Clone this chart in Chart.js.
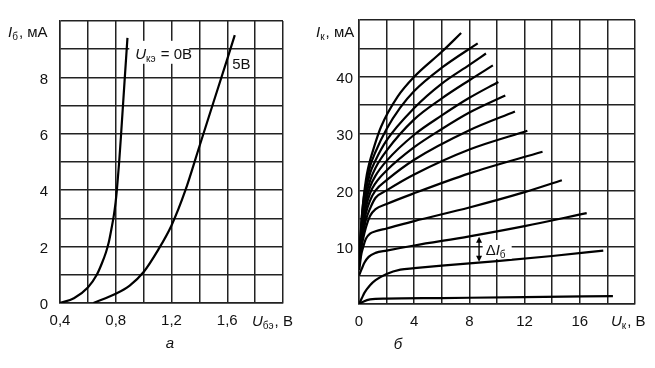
<!DOCTYPE html>
<html>
<head>
<meta charset="utf-8">
<script src="https://cdn.jsdelivr.net/npm/chart.js@4.4.1/dist/chart.umd.min.js"></script>
<style>
  html, body { margin: 0; padding: 0; background: #fff; }
  #wrap { position: relative; width: 655px; height: 368px; overflow: hidden; }
  canvas { position: absolute; top: 0; }
  #inputChart { left: 0; }
  #outputChart { left: 300px; }
</style>
</head>
<body>
<div id="wrap">
  <canvas id="inputChart" width="300" height="368"></canvas>
  <canvas id="outputChart" width="355" height="368"></canvas>
</div>
<script>
// --- a: input characteristics, Iб(Uбэ)
const ube0 = [0.4, 0.5, 0.6, 0.664, 0.7, 0.73, 0.75, 0.768, 0.786, 0.7985, 0.808, 0.8245, 0.8385, 0.865, 0.884];
const ib0 = [0, 0.17, 0.55, 1.0, 1.4, 1.8, 2.15, 2.6, 3.1, 3.55, 4.0, 5.0, 6.0, 8.0, 9.4];
const ube5 = [0.64, 0.8, 0.9, 1.0, 1.1, 1.2, 1.3, 1.4, 1.5, 1.6, 1.654];
const ib5 = [0, 0.33, 0.62, 1.1, 1.85, 2.75, 4.0, 5.55, 7.1, 8.65, 9.5];
const ubeTickLabels = [0.4, 0.8, 1.2, 1.6];
const ibTickLabels = [0, 2, 4, 6, 8];

// --- б: output characteristics, Iк(Uк), one curve per base current step
const ik1 = [[0,0],[0.3,0.4],[0.8,0.8],[2,0.95],[6,1.05],[12,1.2],[18.4,1.4]];
const ik2 = [[0,0],[0.2,1.0],[0.4,2.0],[0.8,3.3],[1.2,4.2],[2,5.3],[3,6.05],[4,6.3],[6,6.75],[10,7.55],[14,8.45],[17.7,9.4]];
const ik3 = [[0,5],[0.2,6.2],[0.4,7.3],[0.7,8.3],[1.2,9],[2,9.4],[4,10.3],[8,11.9],[12,13.7],[16.5,16]];
const ik4 = [[0.02,6],[0.15,8.5],[0.3,10],[0.5,11.5],[0.8,12.4],[1.2,12.8],[2,13.3],[4,14.6],[8,17],[12,19.7],[14.7,21.8]];
const ik5 = [[0.03,7],[0.15,9.5],[0.3,11.5],[0.5,13.5],[0.8,15.5],[1.2,16.7],[2,17.6],[4,19.5],[8,23],[13.3,26.8]];
const ik6 = [[0.04,7.5],[0.15,10.5],[0.3,12.5],[0.5,14.8],[0.8,16.8],[1.2,18.7],[2,20],[4,22.8],[8,27.2],[12.2,30.5]];
const ik7 = [[0.05,8],[0.15,11],[0.3,13.5],[0.5,16],[0.8,18.2],[1.2,20],[2,21.8],[4,25.4],[8,30.6],[11.3,33.9]];
const ik8 = [[0.06,8.5],[0.15,11.5],[0.3,14.5],[0.5,17],[0.8,19.5],[1.2,21.3],[2,23.5],[4,27.6],[6,30.8],[8,33.7],[10.6,36.7]];
const ik9 = [[0.07,9],[0.15,12],[0.3,15.5],[0.5,18],[0.8,20.6],[1.2,22.6],[2,25.2],[4,29.8],[6,33.2],[8,36.3],[10.1,39.1]];
const ik10 = [[0.08,9.5],[0.15,12.5],[0.3,16.2],[0.5,19],[0.8,21.7],[1.2,24],[2,27],[4,32.5],[6,36.2],[8,39.4],[9.7,42]];
const ik11 = [[0.09,10],[0.15,13],[0.3,17],[0.5,20],[0.8,23],[1.2,25.3],[2,28.8],[4,34.5],[6,38.8],[8,42.1],[9.2,44.1]];
const ik12 = [[0.1,10.5],[0.15,13.5],[0.3,17.8],[0.5,21],[0.8,24.2],[1.2,26.8],[2,30.8],[3,34.6],[4,37.5],[6,41.6],[8.6,45.9]];
const ik13 = [[0.1,11],[0.2,15],[0.35,19],[0.5,21.8],[0.65,23.8],[1.1,27.7],[1.6,31.2],[2.8,36.5],[4,40],[6,44.4],[7.4,47.7]];
const ukTickLabels = [0, 4, 8, 12, 16];
const ikTickLabels = [10, 20, 30, 40];

const FONT = "'Liberation Sans', Arial, sans-serif";
const INK = "#111";
const GRID = "#222";

// draws a run of text pieces, some italic, some as subscript
function richText(ctx, parts, x, y, size) {
  let cx = x;
  parts.forEach((p) => {
    const s = p.sub ? Math.round(size * 0.68) : size;
    ctx.font = (p.it ? "italic " : "") + s + "px " + FONT;
    ctx.fillText(p.t, cx, y + (p.sub ? size * 0.2 : 0));
    cx += ctx.measureText(p.t).width + (p.sub ? 1 : 0);
  });
  return cx - x;
}

function curve(xs, ys) {
  return xs.map((x, i) => ({ x: x, y: ys[i] }));
}

function lineSet(points) {
  return {
    data: points,
    showLine: true,
    borderColor: "#000",
    borderWidth: 2.2,
    pointRadius: 0,
    cubicInterpolationMode: "monotone",
    fill: false,
  };
}

function gridOpts() {
  return { color: GRID, lineWidth: 1.5, drawTicks: false };
}

function tickOpts(list, pad, fmt) {
  return {
    padding: pad,
    color: INK,
    font: { family: FONT, size: 15 },
    maxRotation: 0,
    minRotation: 0,
    autoSkip: false,
    callback: (v) => (list.some((t) => Math.abs(t - v) < 1e-6) ? fmt(v) : ""),
  };
}

// ---------- chart a ----------
const textA = {
  id: "textA",
  afterDatasetsDraw(chart) {
    const ctx = chart.ctx;
    const sx = chart.scales.x, sy = chart.scales.y;
    ctx.save();
    ctx.textBaseline = "alphabetic";

    // label box on the 0 V curve
    const lx = sx.getPixelForValue(0.94), ly = sy.getPixelForValue(8.66);
    ctx.fillStyle = "#fff";
    ctx.fillRect(lx - 6, ly - 18, 60, 23);
    ctx.fillStyle = INK;
    richText(ctx, [{ t: "U", it: true }, { t: "кэ", sub: true }, { t: " = 0В" }], lx, ly, 15);
    richText(ctx, [{ t: "5В" }], sx.getPixelForValue(1.636), sy.getPixelForValue(8.3), 15);

    // axis titles
    richText(ctx, [{ t: "I", it: true }, { t: "б", sub: true }, { t: ", мА" }], 8, 37, 15);
    richText(ctx, [{ t: "U", it: true }, { t: "бэ", sub: true }, { t: ", В" }], 252, 326, 15);

    ctx.font = "italic 15px " + FONT;
    ctx.textAlign = "center";
    ctx.fillText("а", 170, 348);
    ctx.restore();
  },
};

const xA = {
  type: "linear",
  min: 0.4,
  max: 2.0,
  afterFit: (s) => { s.height = 65; },
  grid: gridOpts(),
  border: { color: GRID, width: 1.5 },
  ticks: Object.assign({ stepSize: 0.2 }, tickOpts(ubeTickLabels, 9, (v) => v.toFixed(1).replace(".", ","))),
};
const yA = {
  type: "linear",
  min: 0,
  max: 10,
  afterFit: (s) => { s.width = 60; },
  grid: gridOpts(),
  border: { color: GRID, width: 1.5 },
  ticks: Object.assign({ stepSize: 1, labelOffset: 2 }, tickOpts(ibTickLabels, 12, (v) => String(v))),
};

new Chart(document.getElementById("inputChart"), {
  type: "scatter",
  data: {
    datasets: [lineSet(curve(ube0, ib0)), lineSet(curve(ube5, ib5))],
  },
  options: {
    responsive: false,
    animation: false,
    layout: { padding: { top: 20, right: 17, left: 0, bottom: 0 } },
    plugins: { legend: { display: false }, tooltip: { enabled: false } },
    scales: { x: xA, y: yA },
  },
  plugins: [textA],
});

// ---------- chart б ----------
const textB = {
  id: "textB",
  afterDatasetsDraw(chart) {
    const ctx = chart.ctx;
    const sx = chart.scales.x, sy = chart.scales.y;
    ctx.save();

    // ΔIб marker between the 2nd and 3rd curves
    const ax = sx.getPixelForValue(8.7);
    const aTop = sy.getPixelForValue(11.85), aBot = sy.getPixelForValue(7.45);
    const tx = sx.getPixelForValue(9.18), ty = sy.getPixelForValue(8.63);
    ctx.fillStyle = "#fff";
    ctx.fillRect(tx - 3, ty - 15, 29, 19);
    ctx.strokeStyle = "#000";
    ctx.lineWidth = 1.4;
    ctx.beginPath();
    ctx.moveTo(ax, aTop + 4);
    ctx.lineTo(ax, aBot - 4);
    ctx.stroke();
    ctx.fillStyle = "#000";
    ctx.beginPath();
    ctx.moveTo(ax, aTop); ctx.lineTo(ax - 3, aTop + 6); ctx.lineTo(ax + 3, aTop + 6);
    ctx.closePath(); ctx.fill();
    ctx.beginPath();
    ctx.moveTo(ax, aBot); ctx.lineTo(ax - 3, aBot - 6); ctx.lineTo(ax + 3, aBot - 6);
    ctx.closePath(); ctx.fill();

    ctx.fillStyle = INK;
    richText(ctx, [{ t: "Δ" }, { t: "I", it: true }, { t: "б", sub: true }], tx, ty, 15);

    // axis titles
    richText(ctx, [{ t: "I", it: true }, { t: "к", sub: true }, { t: ", мА" }], 16, 37, 15);
    richText(ctx, [{ t: "U", it: true }, { t: "к", sub: true }, { t: ", В" }], 311, 326, 15);

    ctx.font = "italic 15px " + FONT;
    ctx.textAlign = "center";
    ctx.fillText("б", 98, 349);
    ctx.restore();
  },
};

const xB = {
  type: "linear",
  min: 0,
  max: 20,
  afterFit: (s) => { s.height = 64; },
  grid: gridOpts(),
  border: { color: GRID, width: 1.5 },
  ticks: Object.assign({ stepSize: 2 }, tickOpts(ukTickLabels, 9, (v) => String(v))),
};
const yB = {
  type: "linear",
  min: 0,
  max: 50,
  afterFit: (s) => { s.width = 59; },
  grid: gridOpts(),
  border: { color: GRID, width: 1.5 },
  ticks: Object.assign({ stepSize: 5, labelOffset: 2 }, tickOpts(ikTickLabels, 6, (v) => String(v))),
};

new Chart(document.getElementById("outputChart"), {
  type: "scatter",
  data: {
    datasets: [ik1, ik2, ik3, ik4, ik5, ik6, ik7, ik8, ik9, ik10, ik11, ik12, ik13].map((c) =>
      lineSet(c.map((p) => ({ x: p[0], y: p[1] })))
    ),
  },
  options: {
    responsive: false,
    animation: false,
    layout: { padding: { top: 20, right: 20, left: 0, bottom: 0 } },
    plugins: { legend: { display: false }, tooltip: { enabled: false } },
    scales: { x: xB, y: yB },
  },
  plugins: [textB],
});
</script>
</body>
</html>
